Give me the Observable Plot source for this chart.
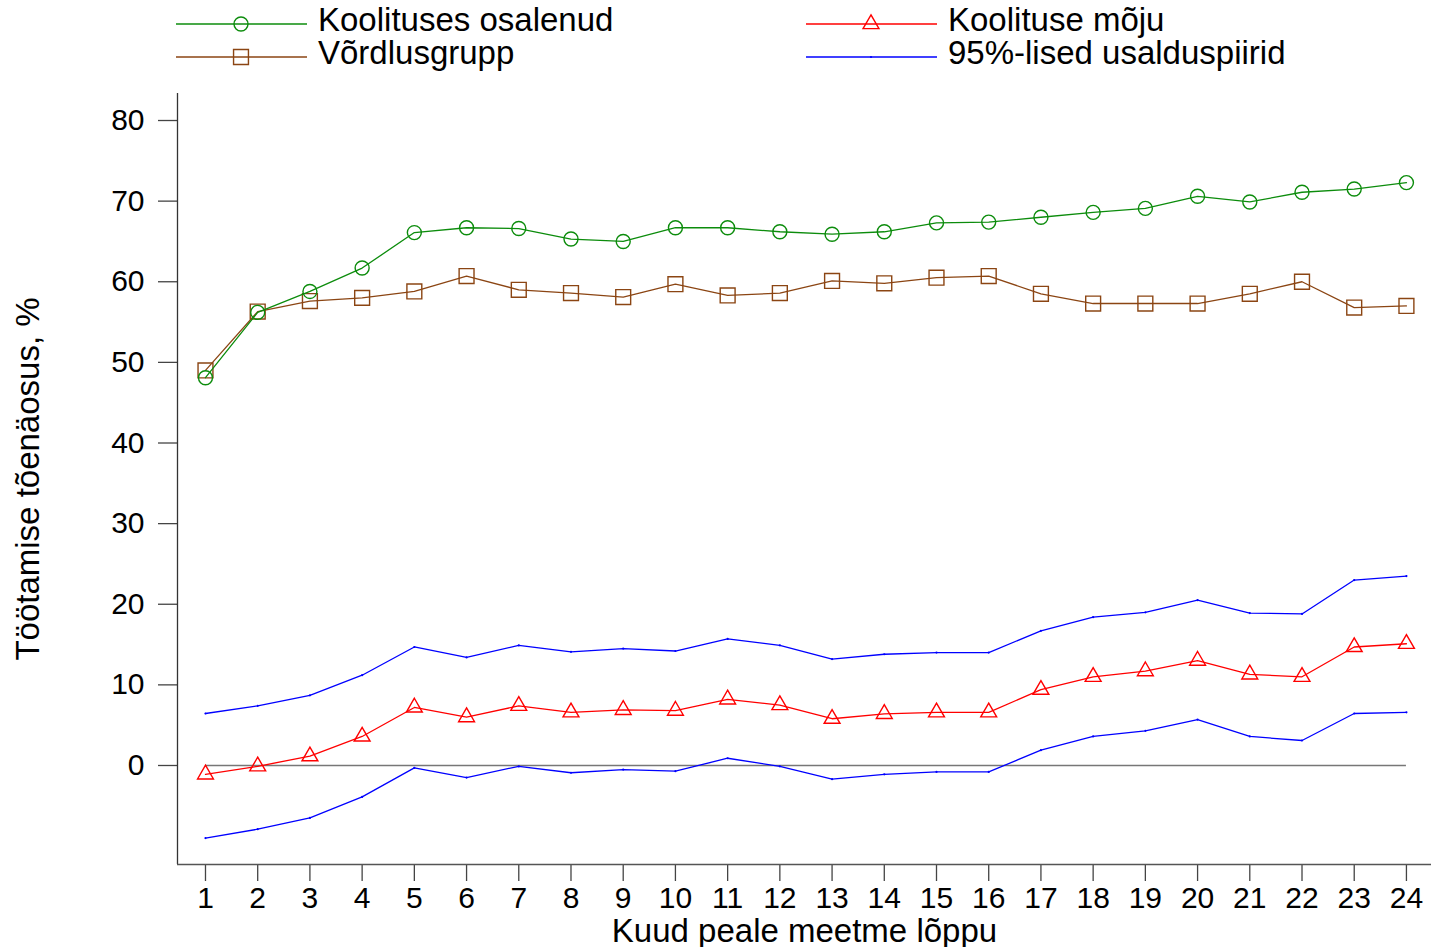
<!DOCTYPE html>
<html>
<head>
<meta charset="utf-8">
<script src="https://cdn.jsdelivr.net/npm/d3@7"></script>
<script src="https://cdn.jsdelivr.net/npm/@observablehq/plot@0.6"></script>
<style>
  html, body { margin: 0; padding: 0; background: #fff; }
  body { font-family: "Liberation Sans", Arial, sans-serif; width: 1431px; height: 947px; overflow: hidden; }
  #legend { position: relative; height: 80px; width: 1431px; }
  #legend svg { position: absolute; }
  #legend span { position: absolute; font-size: 33px; color: #000; line-height: 30px; height: 30px; white-space: nowrap; }
</style>
</head>
<body>
<div id="legend"></div>
<div id="chart"></div>
<script>
// ---- data ----
const months = [1,2,3,4,5,6,7,8,9,10,11,12,13,14,15,16,17,18,19,20,21,22,23,24];
const osalenud = [48.1,56.2,58.8,61.7,66.1,66.7,66.6,65.3,65.0,66.7,66.7,66.2,65.9,66.2,67.3,67.4,68.0,68.6,69.1,70.6,69.9,71.1,71.5,72.3];
const vordlus  = [49.0,56.3,57.6,58.0,58.8,60.7,59.0,58.6,58.1,59.7,58.3,58.6,60.1,59.8,60.5,60.7,58.5,57.3,57.3,57.3,58.5,60.0,56.8,57.0];
const moju     = [-1.1,-0.1,1.15,3.6,7.2,6.0,7.4,6.6,6.9,6.8,8.2,7.5,5.8,6.4,6.6,6.6,9.4,11.0,11.7,13.0,11.3,11.0,14.7,15.1];
const ylemine  = [6.45,7.4,8.7,11.2,14.7,13.4,14.9,14.1,14.5,14.2,15.7,14.9,13.2,13.8,14.0,14.0,16.7,18.4,19.0,20.5,18.9,18.8,23.0,23.5];
const alumine  = [-9.0,-7.9,-6.5,-3.9,-0.3,-1.5,-0.1,-0.9,-0.5,-0.7,0.9,-0.1,-1.7,-1.1,-0.8,-0.8,1.9,3.6,4.3,5.7,3.6,3.1,6.45,6.6];
const yTicks = [0,10,20,30,40,50,60,70,80];
const xLabel = "Kuud peale meetme lõppu";
const yLabel = "Töötamise tõenäosus, %";
const seriesNames = ["Koolituses osalenud", "Koolituse mõju", "Võrdlusgrupp", "95%-lised usalduspiirid"];

const xDomain = [0.464, 24.48];
const yDomain = [-12.28, 83.35];

const C = { green: "#0c8c0c", brown: "#8b4513", red: "#ff0000", blue: "#0000ff" };

const rows = (vals) => months.map((m, i) => ({ m, v: vals[i] }));
const dOs = rows(osalenud), dVo = rows(vordlus), dMo = rows(moju), dUp = rows(ylemine), dLo = rows(alumine);

const chart = Plot.plot({
  width: 1431,
  height: 867,
  marginLeft: 177,
  marginRight: 0,
  marginTop: 13,
  marginBottom: 83,
  style: { fontFamily: '"Liberation Sans", Arial, sans-serif', fontSize: "30px", color: "#000", background: "#fff", overflow: "visible" },
  x: { domain: xDomain },
  y: { domain: yDomain },
  marks: [
    Plot.axisX(months, { tickSize: 17, tickPadding: 5, fontSize: 30, stroke: "#444", strokeWidth: 1.3, tickFormat: d => String(d),
      label: null }),
    Plot.axisX({ ticks: [], tickSize: 0, fontSize: 33, label: xLabel, labelAnchor: "center", labelOffset: 77, labelArrow: "none" }),
    Plot.axisY(yTicks, { tickSize: 19, tickPadding: 14, fontSize: 30, stroke: "#444", strokeWidth: 1.3, tickFormat: d => String(d),
      label: null }),
    Plot.axisY({ ticks: [], tickSize: 0, fontSize: 33, label: yLabel, labelAnchor: "center", labelOffset: 162, labelArrow: "none" }),
    Plot.ruleX([xDomain[0]], { stroke: "#333", strokeWidth: 1.3 }),
    Plot.ruleY([yDomain[0]], { stroke: "#555", strokeWidth: 1.6 }),
    Plot.ruleY([0], { x1: d3.min(months), x2: d3.max(months), stroke: "#777", strokeWidth: 1.6 }),
    Plot.line(dUp, { x: "m", y: "v", stroke: C.blue, strokeWidth: 1.3 }),
    Plot.line(dLo, { x: "m", y: "v", stroke: C.blue, strokeWidth: 1.3 }),
    Plot.dot(dUp, { x: "m", y: "v", fill: C.blue, r: 1.1 }),
    Plot.dot(dLo, { x: "m", y: "v", fill: C.blue, r: 1.1 }),
    Plot.line(dMo, { x: "m", y: "v", stroke: C.red, strokeWidth: 1.3 }),
    Plot.dot(dMo, { x: "m", y: "v", symbol: "triangle", stroke: C.red, strokeWidth: 1.4, r: 5.9 }),
    Plot.line(dVo, { x: "m", y: "v", stroke: C.brown, strokeWidth: 1.3 }),
    Plot.dot(dVo, { x: "m", y: "v", symbol: "square", stroke: C.brown, strokeWidth: 1.4, r: 8.4 }),
    Plot.line(dOs, { x: "m", y: "v", stroke: C.green, strokeWidth: 1.3 }),
    Plot.dot(dOs, { x: "m", y: "v", symbol: "circle", stroke: C.green, strokeWidth: 1.4, r: 7 })
  ]
});
document.getElementById("chart").appendChild(chart);

// ---- legend (HTML above the SVG) ----
const legendItems = [
  { name: seriesNames[0], color: C.green, symbol: "circle", r: 7, left: 176, lineY: 24, baseY: 31.7 },
  { name: seriesNames[1], color: C.red, symbol: "triangle", r: 5.9, left: 806, lineY: 24, baseY: 31.7 },
  { name: seriesNames[2], color: C.brown, symbol: "square", r: 8.4, left: 176, lineY: 56.5, baseY: 64.3 },
  { name: seriesNames[3], color: C.blue, symbol: "dot", r: 1.1, left: 806, lineY: 56.5, baseY: 64.3 }
];
const symMap = { circle: d3.symbolCircle, triangle: d3.symbolTriangle, square: d3.symbolSquare };
const legend = d3.select("#legend");
for (const it of legendItems) {
  const svg = legend.append("svg").attr("width", 131).attr("height", 34)
    .style("left", it.left + "px").style("top", (it.lineY - 17) + "px");
  svg.append("line").attr("x1", 0).attr("x2", 131).attr("y1", 17).attr("y2", 17).attr("stroke", it.color).attr("stroke-width", 1.3);
  if (it.symbol === "dot") {
    svg.append("circle").attr("cx", 65).attr("cy", 17).attr("r", it.r).attr("fill", it.color);
  } else {
    svg.append("path").attr("transform", "translate(65,17)")
      .attr("d", d3.symbol(symMap[it.symbol], it.r * it.r * Math.PI)())
      .attr("fill", "none").attr("stroke", it.color).attr("stroke-width", 1.4);
  }
  legend.append("span").text(it.name)
    .style("left", (it.left + 142) + "px").style("top", (it.baseY - 26.45) + "px");
}
</script>
</body>
</html>
